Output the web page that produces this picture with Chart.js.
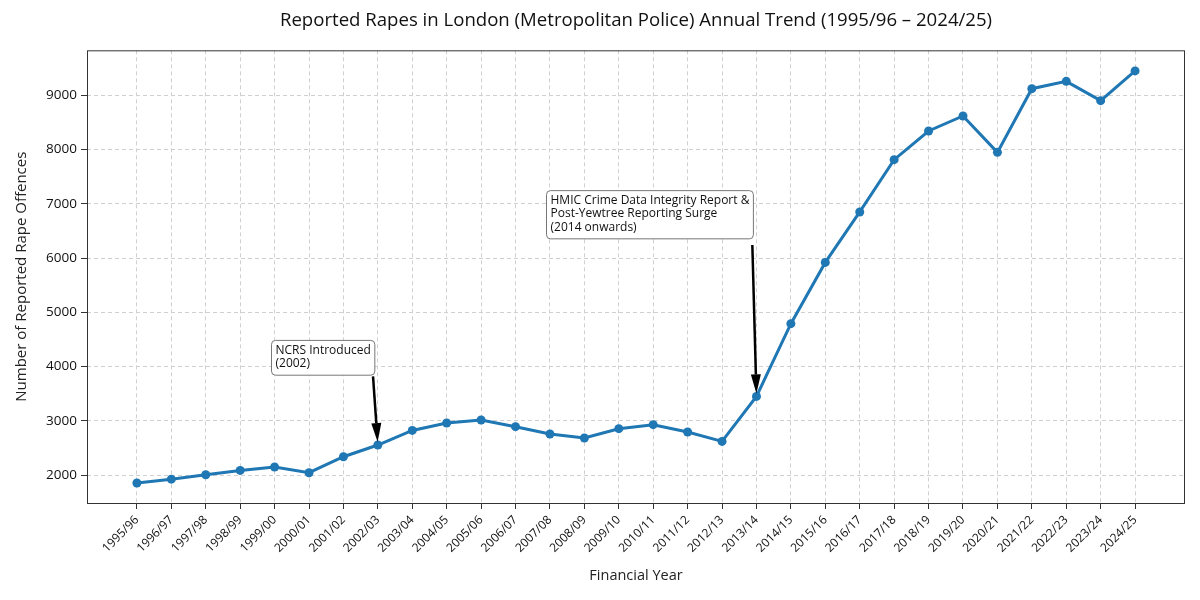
<!DOCTYPE html>
<html>
<head>
<meta charset="utf-8">
<script src="https://cdn.jsdelivr.net/npm/chart.js@4.4.1/dist/chart.umd.min.js"></script>
<style>
  html, body { margin: 0; padding: 0; background: #fff; }
  #wrap { width: 1200px; height: 600px; }
</style>
</head>
<body>
<div id="wrap"><canvas id="chart" width="1200" height="600"></canvas></div>
<script>
const years = ['1995/96', '1996/97', '1997/98', '1998/99', '1999/00', '2000/01', '2001/02', '2002/03',
    '2003/04', '2004/05', '2005/06', '2006/07', '2007/08', '2008/09', '2009/10', '2010/11',
    '2011/12', '2012/13', '2013/14', '2014/15', '2015/16', '2016/17', '2017/18', '2018/19',
    '2019/20', '2020/21', '2021/22', '2022/23', '2023/24', '2024/25'];
const rapes = [1852, 1924, 2005, 2085, 2147, 2042, 2337, 2553,
    2822, 2959, 3014, 2891, 2756, 2682, 2854, 2928,
    2793, 2620, 3449, 4790, 5920, 6850, 7814, 8343,
    8620, 7949, 9123, 9258, 8902, 9450];
const yTicks = [2000, 3000, 4000, 5000, 6000, 7000, 8000, 9000];

// annotation boxes: left index / top value of the box, arrow start, arrow target index
const notes = [
    { lines: ['NCRS Introduced', '(2002)'], boxX: 3.91, boxY: 4482, fromX: 6.86, fromY: 3818, target: 7 },
    { lines: ['HMIC Crime Data Integrity Report &', 'Post-Yewtree Reporting Surge', '(2014 onwards)'],
      boxX: 11.9, boxY: 7243, fromX: 17.88, fromY: 6241, target: 18 }
];

const FONT = '"Open Sans", Roboto, sans-serif';

const framePlugin = {
    id: 'frame',
    afterDraw(chart) {
        const ctx = chart.ctx;
        const a = chart.chartArea;
        const xs = chart.scales.x, ys = chart.scales.y;
        ctx.save();
        ctx.strokeStyle = '#333';
        ctx.lineWidth = 1;
        ctx.strokeRect(a.left + 0.5, a.top + 0.5, a.right - a.left - 1, a.bottom - a.top);

        ctx.font = '12px ' + FONT;
        notes.forEach(n => {
            const bx = xs.getPixelForValue(n.boxX);
            const by = ys.getPixelForValue(n.boxY);
            const lh = 13.4;
            const pad = 4;
            const w = Math.max(...n.lines.map(l => ctx.measureText(l).width)) + pad * 2;
            const h = n.lines.length * lh + pad * 2;
            ctx.beginPath();
            ctx.roundRect(bx, by, w, h, 4);
            ctx.fillStyle = '#fff';
            ctx.fill();
            ctx.strokeStyle = '#777';
            ctx.lineWidth = 1;
            ctx.stroke();
            ctx.fillStyle = '#111';
            ctx.textBaseline = 'top';
            ctx.textAlign = 'left';
            n.lines.forEach((l, i) => ctx.fillText(l, bx + pad, by + pad + i * lh));

            // arrow
            const x0 = xs.getPixelForValue(n.fromX), y0 = ys.getPixelForValue(n.fromY);
            const tx = xs.getPixelForValue(n.target), ty = ys.getPixelForValue(rapes[n.target]);
            const ang = Math.atan2(ty - y0, tx - x0);
            const len = Math.hypot(tx - x0, ty - y0);
            const x1 = x0 + Math.cos(ang) * (len - 3), y1 = y0 + Math.sin(ang) * (len - 3);
            const hl = 19, hw = 5;
            const bxh = x1 - Math.cos(ang) * hl, byh = y1 - Math.sin(ang) * hl;
            ctx.strokeStyle = '#000';
            ctx.lineWidth = 2.5;
            ctx.beginPath();
            ctx.moveTo(x0, y0);
            ctx.lineTo(bxh, byh);
            ctx.stroke();
            ctx.fillStyle = '#000';
            ctx.beginPath();
            ctx.moveTo(x1, y1);
            ctx.lineTo(bxh + Math.sin(ang) * hw, byh - Math.cos(ang) * hw);
            ctx.lineTo(bxh - Math.sin(ang) * hw, byh + Math.cos(ang) * hw);
            ctx.closePath();
            ctx.fill();
        });
        ctx.restore();
    }
};

const ctx = document.getElementById('chart').getContext('2d');
new Chart(ctx, {
    type: 'line',
    data: {
        datasets: [{
            label: 'Reported rapes',
            data: rapes.map((v, i) => ({ x: i, y: v })),
            borderColor: '#1f77b4',
            backgroundColor: '#1f77b4',
            borderWidth: 3,
            pointRadius: 4.5,
            pointBorderWidth: 0,
            pointHoverRadius: 4.5,
            tension: 0
        }]
    },
    options: {
        responsive: false,
        animation: false,
        layout: { padding: { left: 6, right: 15, top: 0, bottom: 10 } },
        plugins: {
            legend: { display: false },
            tooltip: { enabled: false },
            title: {
                display: true,
                fullSize: false,
                text: 'Reported Rapes in London (Metropolitan Police) Annual Trend (1995/96 \u2013 2024/25)',
                color: '#111',
                font: { family: FONT, size: 18.6, weight: 'normal' },
                padding: { top: 10, bottom: 18 }
            }
        },
        scales: {
            x: {
                type: 'linear',
                min: -1.45,
                max: 30.45,
                afterBuildTicks: s => { s.ticks = years.map((_, i) => ({ value: i })); },
                afterFit: s => { s.height = 87; },
                ticks: {
                    autoSkip: false,
                    maxRotation: 45,
                    minRotation: 45,
                    padding: 4,
                    color: '#111',
                    font: { family: FONT, size: 12 },
                    callback: v => years[v]
                },
                grid: {
                    color: '#d0d0d0',
                    tickColor: '#333',
                    tickBorderDash: [],
                    tickLength: 6
                },
                border: { display: false, dash: [4, 3] },
                title: {
                    display: true,
                    text: 'Financial Year',
                    color: '#222',
                    font: { family: FONT, size: 14.5 },
                    padding: { top: 0, bottom: 5 }
                }
            },
            y: {
                min: 1484,
                max: 9830,
                afterBuildTicks: s => { s.ticks = yTicks.map(v => ({ value: v })); },
                afterFit: s => { s.width = 81; },
                ticks: {
                    padding: 4,
                    color: '#111',
                    font: { family: FONT, size: 13.5 },
                    callback: v => String(v)
                },
                grid: {
                    color: '#d0d0d0',
                    tickColor: '#333',
                    tickBorderDash: [],
                    tickLength: 6
                },
                border: { display: false, dash: [4, 3] },
                title: {
                    display: true,
                    text: 'Number of Reported Rape Offences',
                    color: '#222',
                    font: { family: FONT, size: 15 },
                    padding: { top: 7, bottom: 4 }
                }
            }
        }
    },
    plugins: [framePlugin]
});
</script>
</body>
</html>
